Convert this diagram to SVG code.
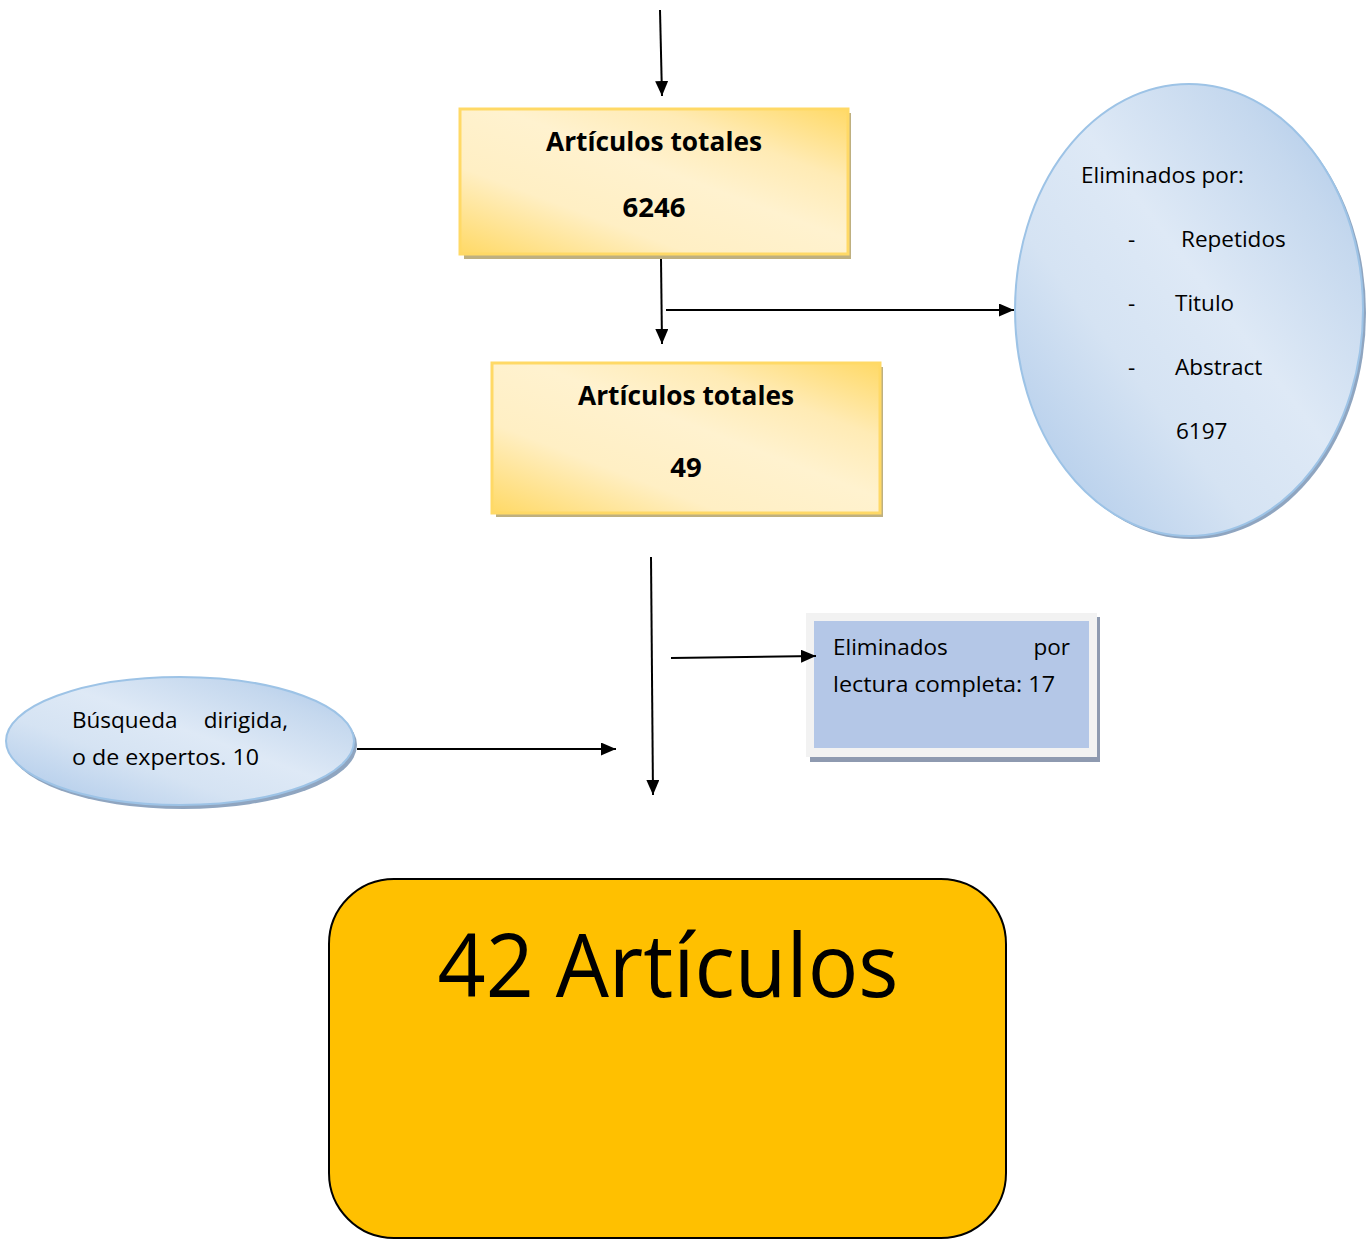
<svg xmlns="http://www.w3.org/2000/svg" width="1366" height="1242" viewBox="0 0 1366 1242">
<defs>
<linearGradient id="gold" x1="0" y1="1" x2="1" y2="0">
<stop offset="0" stop-color="#FFD966"/>
<stop offset="0.3" stop-color="#FFEFC4"/>
<stop offset="0.55" stop-color="#FFF2CF"/>
<stop offset="0.75" stop-color="#FFEBB5"/>
<stop offset="1" stop-color="#FFD966"/>
</linearGradient>
<linearGradient id="blue" x1="0" y1="1" x2="1" y2="0">
<stop offset="0" stop-color="#A9C6E8"/>
<stop offset="0.35" stop-color="#D5E3F3"/>
<stop offset="0.55" stop-color="#DEE9F6"/>
<stop offset="0.8" stop-color="#C5D8EE"/>
<stop offset="1" stop-color="#A9C6E8"/>
</linearGradient>
<marker id="ahv" viewBox="0 0 15 13" refX="15" refY="6.5" markerWidth="15" markerHeight="13" markerUnits="userSpaceOnUse" orient="auto">
<path d="M0,0 L15,6.5 L0,13 z" fill="#000"/>
</marker>
</defs>
<style>
text{font-family:"Open Sans","Liberation Sans",sans-serif;fill:#000}
.b{font-weight:bold;font-size:27.5px}
.t{font-size:22.5px}
.conn line{stroke:#000;stroke-width:2}
.box{fill:url(#gold);stroke:#FFD966;stroke-width:3}
.shadowY{fill:#BFB080}
</style>
<g id="node-totales-6246">
<rect x="464" y="113" width="387" height="146" class="shadowY"/>
<rect x="460" y="109" width="388" height="145" class="box"/>
<text x="654" y="151" class="b" text-anchor="middle" textLength="216" lengthAdjust="spacingAndGlyphs">Artículos totales</text>
<text x="654" y="217" class="b" text-anchor="middle">6246</text>
</g>
<g id="node-totales-49">
<rect x="496" y="367" width="387" height="150" class="shadowY"/>
<rect x="492" y="363" width="388" height="150" class="box"/>
<text x="686" y="405" class="b" text-anchor="middle" textLength="216" lengthAdjust="spacingAndGlyphs">Artículos totales</text>
<text x="686" y="477" class="b" text-anchor="middle">49</text>
</g>
<g id="node-eliminados-por">
<ellipse cx="1192" cy="313" rx="174" ry="226" fill="#8FA5C0"/>
<ellipse cx="1189" cy="310" rx="174" ry="226" fill="url(#blue)" stroke="#9DC3E6" stroke-width="2"/>
<text x="1081" y="183" class="t">Eliminados por:</text>
<text x="1128" y="247" class="t">-</text>
<text x="1181" y="247" class="t">Repetidos</text>
<text x="1128" y="311" class="t">-</text>
<text x="1175" y="311" class="t">Titulo</text>
<text x="1128" y="375" class="t">-</text>
<text x="1175" y="375" class="t">Abstract</text>
<text x="1176" y="439" class="t">6197</text>
</g>
<g id="node-lectura-completa">
<rect x="810" y="617" width="290" height="145" fill="#8E9AB0"/>
<rect x="806" y="613" width="291" height="144" fill="#F2F2F2"/>
<rect x="814" y="621" width="275" height="127" fill="#B4C7E7"/>
<text x="833" y="655" class="t">Eliminados</text>
<text x="1070" y="655" class="t" text-anchor="end">por</text>
<text x="833" y="692" class="t" textLength="222" lengthAdjust="spacingAndGlyphs">lectura completa: 17</text>
</g>
<g id="node-busqueda">
<ellipse cx="183" cy="745" rx="174" ry="64" fill="#8FA5C0"/>
<ellipse cx="180" cy="741" rx="174" ry="64" fill="url(#blue)" stroke="#9DC3E6" stroke-width="2"/>
<text x="72" y="728" class="t">Búsqueda</text>
<text x="288" y="728" class="t" text-anchor="end">dirigida,</text>
<text x="72" y="765" class="t" textLength="187" lengthAdjust="spacingAndGlyphs">o de expertos. 10</text>
</g>
<g id="node-42-articulos">
<rect x="329" y="879" width="677" height="359" rx="65" ry="65" fill="#FFC000" stroke="#000" stroke-width="2"/>
<text x="668" y="997" text-anchor="middle" font-size="88" textLength="461" lengthAdjust="spacingAndGlyphs">42 Artículos</text>
</g>
<g id="connectors" class="conn">
<line x1="660" y1="10" x2="662" y2="96" marker-end="url(#ahv)"/>
<line x1="661" y1="259" x2="662" y2="344" marker-end="url(#ahv)"/>
<line x1="666" y1="310" x2="1014" y2="310" marker-end="url(#ahv)"/>
<line x1="651" y1="557" x2="653" y2="795" marker-end="url(#ahv)"/>
<line x1="671" y1="658" x2="816" y2="656" marker-end="url(#ahv)"/>
<line x1="357" y1="749" x2="616" y2="749" marker-end="url(#ahv)"/>
</g>
</svg>
